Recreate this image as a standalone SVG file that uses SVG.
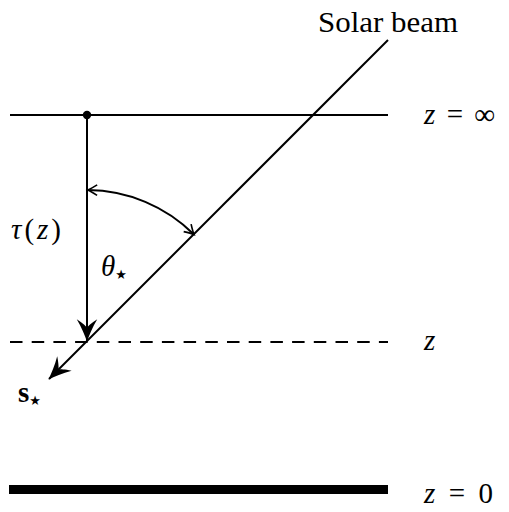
<svg xmlns="http://www.w3.org/2000/svg" width="509" height="512" viewBox="0 0 509 512">
<style>
  .ln { stroke: #000; stroke-width: 2; fill: none; }
  .txt { font-family: "Liberation Serif", "DejaVu Serif", serif; font-size: 29px; fill: #000; }
  .it { font-style: italic; }
  .sub { font-family: "DejaVu Sans", sans-serif; font-size: 13px; }
</style>
<defs>
  <marker id="big" markerUnits="userSpaceOnUse" markerWidth="30" markerHeight="30" viewBox="-20 -11 22 22" refX="0" refY="0" orient="auto">
    <path d="M0.5,0 C-4,-1.5 -10,-4 -16,-7.5 C-13,-3 -11,-1 -10,0 C-11,1 -13,3 -16,7.5 C-10,4 -4,1.5 0.5,0 Z" fill="#000"/>
  </marker>
  <marker id="small" markerUnits="userSpaceOnUse" markerWidth="14" markerHeight="14" viewBox="-10 -6 12 12" refX="0" refY="0" orient="auto-start-reverse">
    <path d="M-8,-4.5 Q-2.5,-1 0,0 Q-2.5,1 -8,4.5" fill="none" stroke="#000" stroke-width="1.4"/>
  </marker>
</defs>

<g id="levels">
  <g id="level-inf">
    <line class="ln" x1="10" y1="115" x2="388" y2="115"/>
    <text class="txt" x="424" y="124" textLength="71" lengthAdjust="spacing"><tspan class="it">z</tspan> = ∞</text>
  </g>
  <g id="level-z">
    <line class="ln" x1="10" y1="342" x2="388" y2="342" stroke-dasharray="12.5 9.2"/>
    <text class="txt it" x="424" y="350">z</text>
  </g>
  <g id="level-0">
    <line x1="9" y1="489.5" x2="388" y2="489.5" stroke="#000" stroke-width="9"/>
    <text class="txt" x="424" y="503" textLength="69" lengthAdjust="spacing"><tspan class="it">z</tspan> = 0</text>
  </g>
</g>

<g id="connectors">
  <g id="tau-arrow">
    <line class="ln" x1="87" y1="115" x2="87" y2="341" marker-end="url(#big)"/>
    <circle cx="87" cy="115" r="4.2" fill="#000"/>
  </g>
  <g id="beam">
    <line class="ln" x1="388" y1="40" x2="49" y2="379" marker-end="url(#big)"/>
  </g>
  <g id="angle-arc">
    <path class="ln" d="M87.8,190 A152,152 0 0 1 194,234.5" stroke-width="1.6" marker-start="url(#small)" marker-end="url(#small)"/>
  </g>
</g>

<g id="labels">
  <text class="txt" x="318" y="32" textLength="140" lengthAdjust="spacingAndGlyphs">Solar beam</text>
  <text class="txt" x="11" y="239" textLength="50" lengthAdjust="spacing"><tspan class="it">τ</tspan>(<tspan class="it">z</tspan>)</text>
  <text class="txt" x="101" y="276"><tspan class="it">θ</tspan><tspan class="sub" dy="3">★</tspan></text>
  <text class="txt" x="18" y="402"><tspan font-weight="bold">s</tspan><tspan class="sub" dy="3">★</tspan></text>
</g>
</svg>
